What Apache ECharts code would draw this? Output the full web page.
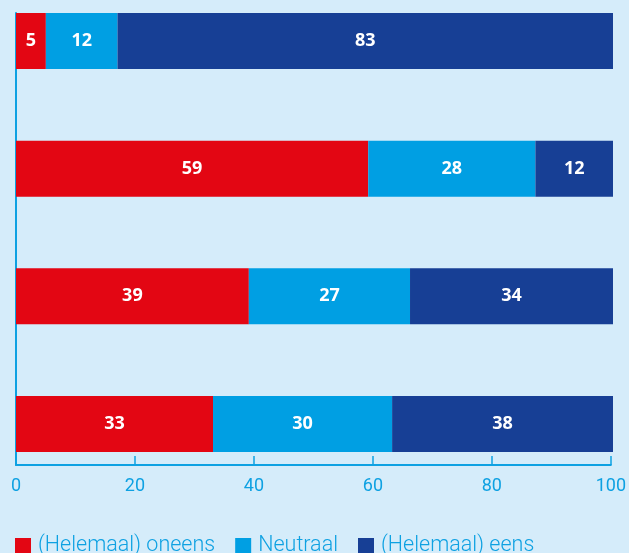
<!DOCTYPE html>
<html lang="nl">
<head>
	<meta charset="UTF-8">
	<title></title>
	<style>
		html, body { margin: 0; padding: 0; background: #d5ecfa; }
	</style>
</head>
<body>
	<div id="main" style="width: 629px;height: 553px"></div>
	<script src="https://cdn.jsdelivr.net/npm/echarts@6/dist/echarts.min.js"></script>
	<script>
		// rijen van boven naar beneden
		var rows = ['r1', 'r2', 'r3', 'r4'];
		var seriesNames = ['(Helemaal) oneens', 'Neutraal', '(Helemaal) eens'];

		var oneens = [5, 59, 39, 33];
		var neutraal = [12, 28, 27, 30];
		var eens = [83, 13, 34, 37];

		// getallen zoals ze op de balken staan
		var oneensLabels = ['5', '59', '39', '33'];
		var neutraalLabels = ['12', '28', '27', '30'];
		var eensLabels = ['83', '12', '34', '38'];

		var xTicks = [0, 20, 40, 60, 80, 100];

		var colors = ['#e30613', '#009fe3', '#173f95'];
		var blue = '#0ea1e2';

		var myChart = echarts.init(document.getElementById('main'));

		function bar(name, data, labels, color) {
			return {
				name: name,
				type: 'bar',
				stack: 'tot',
				xAxisIndex: 0,
				yAxisIndex: 0,
				barWidth: 56,
				data: data,
				itemStyle: { color: color },
				label: {
					show: true,
					position: 'inside',
					color: '#fff',
					fontFamily: 'Open Sans',
					fontWeight: 'bold',
					fontSize: 18,
					formatter: function (p) { return labels[p.dataIndex]; }
				}
			};
		}

		myChart.setOption({
			backgroundColor: '#d5ecfa',
			animation: false,
			grid: [
				// balken: middelpunten van de rijen op 41 en 424
				{ left: 16, right: 16, top: 41, height: 383 },
				// assen
				{ left: 16, right: 16, top: 13, bottom: 88 }
			],
			legend: {
				data: seriesNames,
				left: 15,
				top: 535,
				padding: 0,
				icon: 'rect',
				itemWidth: 16,
				itemHeight: 16,
				itemGap: 20,
				textStyle: { color: blue, fontFamily: 'Roboto', fontSize: 21.5, fontWeight: 300, padding: [0, 0, 0, 2] }
			},
			xAxis: [
				{ gridIndex: 0, type: 'value', min: 0, max: 100, show: false },
				{
					gridIndex: 1, type: 'value', min: 0, max: 100, interval: 20,
					axisLine: { show: true, lineStyle: { color: blue, width: 2 } },
					axisTick: { show: true, inside: true, length: 9, lineStyle: { color: blue, width: 1.5 } },
					axisLabel: {
						color: blue, fontFamily: 'Roboto', fontSize: 18, margin: 12,
						formatter: function (v) { return xTicks.indexOf(v) >= 0 ? String(v) : ''; }
					},
					splitLine: { show: false }
				}
			],
			yAxis: [
				{ gridIndex: 0, type: 'category', data: rows, inverse: true, boundaryGap: false, show: false },
				{
					gridIndex: 1, type: 'value', min: 0, max: 1,
					axisLine: { show: true, lineStyle: { color: blue, width: 2 } },
					axisTick: { show: false },
					axisLabel: { show: false },
					splitLine: { show: false }
				}
			],
			series: [
				bar(seriesNames[0], oneens, oneensLabels, colors[0]),
				bar(seriesNames[1], neutraal, neutraalLabels, colors[1]),
				bar(seriesNames[2], eens, eensLabels, colors[2])
			]
		});
	</script>
</body>
</html>
